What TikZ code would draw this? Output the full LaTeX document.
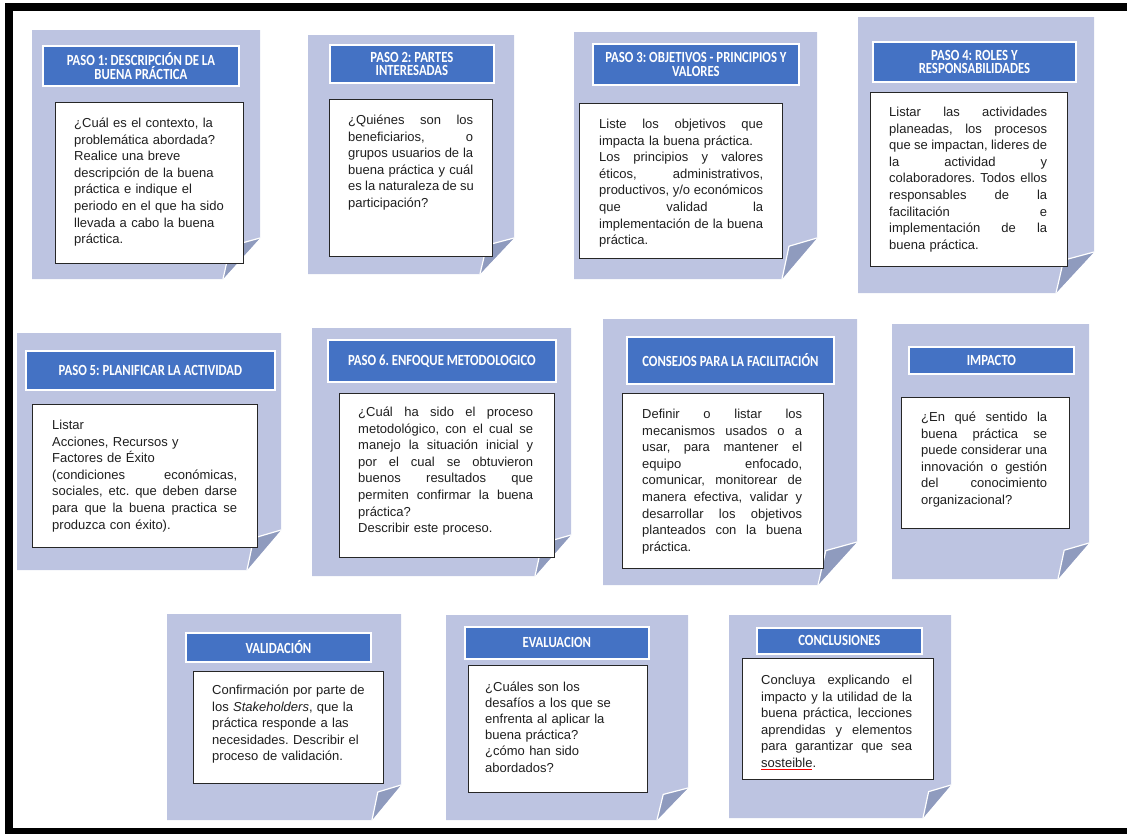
\documentclass[tikz,border=0pt]{standalone}
\usepackage{fontspec}
\setmainfont{Liberation Sans}
\newfontfamily\titlefont[FakeStretch=0.82]{Carlito}
\definecolor{cardbg}{RGB}{189,196,225}
\definecolor{flapcol}{RGB}{143,155,190}
\definecolor{pasoblue}{RGB}{68,114,196}
\frenchspacing
% one justified line of a text box
\newcommand{\jl}[1]{\leavevmode\hbox to \hsize{\spaceskip=0.25em plus 1fill\relax #1}}

\begin{document}
\begin{tikzpicture}[x=1pt,y=-1pt,
    titlebox/.style={draw=white, line width=1.8pt, fill=pasoblue, text=white,
        font=\titlefont\bfseries\fontsize{15.5}{13.6}\selectfont, align=center,
        inner sep=0pt, anchor=north west},
    bodybox/.style={draw=black!85, line width=1pt, fill=white, inner sep=0pt, anchor=north west},
    bodytext/.style={text=black!88, font=\fontsize{13}{16.6}\selectfont, align=left,
        inner sep=0pt, anchor=base west}]
    \useasboundingbox (0,0) rectangle (1127,833);
    \clip (0,0) rectangle (1127,833);
    % frame
    \draw [line width=8pt] (9,7) rectangle (1140,832);

    % cards with folded corner
    \foreach \xa/\ya/\xb/\yb/\fx/\fy in {32/30/260/279/37/41, 308/35/514/274/34/36,
        574/32/817/279/35/41, 858/17/1094/293/38/41, 17/333/281/570/34/40,
        312/328/571/576/36/41, 603/319/857/585/39/43, 892/324/1089/579/31/36,
        167/614/401/820/29/35, 446/615/688/820/31/32, 729/615/951/818/28/33}{
        \fill [cardbg] (\xa,\ya) -- (\xb,\ya) -- (\xb,\yb-\fy) -- (\xb-\fx,\yb) -- (\xa,\yb) -- cycle;
        \filldraw [fill=flapcol, draw=white, line width=1.2pt, line join=round]
            (\xb-\fx,\yb) -- (\xb-0.8*\fx,\yb-0.8*\fy) -- (\xb,\yb-\fy);
    }

    % titles
    \node [titlebox, minimum width=196, minimum height=40] (h1) at (42,45) {PASO 1: DESCRIPCIÓN DE LA\\BUENA PRÁCTICA};
    \node [titlebox, minimum width=164, minimum height=38] (h2) at (329,44) {PASO 2: PARTES\\INTERESADAS};
    \node [titlebox, minimum width=206, minimum height=41] (h3) at (592,43) {PASO 3: OBJETIVOS - PRINCIPIOS Y\\VALORES};
    \node [titlebox, minimum width=203, minimum height=40] (h4) at (872,41) {PASO 4: ROLES Y\\RESPONSABILIDADES};
    \node [titlebox, minimum width=249, minimum height=39] (h5) at (25,350) {PASO 5: PLANIFICAR LA ACTIVIDAD};
    \node [titlebox, minimum width=228, minimum height=42] (h6) at (327,339) {PASO 6. ENFOQUE METODOLOGICO};
    \node [titlebox, minimum width=207, minimum height=47] (h7) at (626,336) {CONSEJOS PARA LA FACILITACIÓN};
    \node [titlebox, minimum width=165, minimum height=27] (h8) at (908,346) {IMPACTO};
    \node [titlebox, minimum width=185, minimum height=29] (h9) at (185,632) {VALIDACIÓN};
    \node [titlebox, minimum width=184, minimum height=32] (h10) at (464,626) {EVALUACION};
    \node [titlebox, minimum width=165, minimum height=26] (h11) at (756,627) {CONCLUSIONES};

    % white boxes
    \node [bodybox, minimum width=188, minimum height=161] (b1) at (55,102) {};
    \node [bodybox, minimum width=163, minimum height=157] (b2) at (329,99) {};
    \node [bodybox, minimum width=203, minimum height=155] (b3) at (579,103) {};
    \node [bodybox, minimum width=197, minimum height=174] (b4) at (870,92) {};
    \node [bodybox, minimum width=225, minimum height=143] (b5) at (32,404) {};
    \node [bodybox, minimum width=215, minimum height=164] (b6) at (339,393) {};
    \node [bodybox, minimum width=201, minimum height=175] (b7) at (622,393) {};
    \node [bodybox, minimum width=168, minimum height=131] (b8) at (901,397) {};
    \node [bodybox, minimum width=190, minimum height=112] (b9) at (193,671) {};
    \node [bodybox, minimum width=179, minimum height=127] (b10) at (468,665) {};
    \node [bodybox, minimum width=191, minimum height=121] (b11) at (742,658) {};

    % texts
    \node [bodytext, text width=168] (t1) at (74,127.5) {¿Cuál es el contexto, la\\
        problemática abordada?\\ Realice una breve\\ descripción de la buena\\
        práctica e indique el\\ periodo en el que ha sido\\ llevada a cabo la buena\\ práctica.};
    \node [bodytext, text width=125] (t2) at (348,124.5) {\jl{¿Quiénes son los}\\
        \jl{beneficiarios, o}\\ \jl{grupos usuarios de la}\\ \jl{buena práctica y cuál}\\
        \jl{es la naturaleza de su}\\ participación?};
    \node [bodytext, text width=164] (t3) at (599,128.5) {\jl{Liste los objetivos que}\\
        impacta la buena práctica.\\ \jl{Los principios y valores}\\ \jl{éticos, administrativos,}\\
        \jl{productivos, y/o económicos}\\ \jl{que validad la}\\ \jl{implementación de la buena}\\ práctica.};
    \node [bodytext, text width=158] (t4) at (889,116.5) {\jl{Listar las actividades}\\
        \jl{planeadas, los procesos}\\ \jl{que se impactan, lideres de}\\ \jl{la actividad y}\\
        \jl{colaboradores. Todos ellos}\\ \jl{responsables de la}\\ \jl{facilitación e}\\
        \jl{implementación de la}\\ buena práctica.};
    \node [bodytext, text width=185] (t5) at (52,429.5) {Listar\\ Acciones, Recursos y\\
        Factores de Éxito\\ \jl{(condiciones económicas,}\\ \jl{sociales, etc. que deben darse}\\
        \jl{para que la buena practica se}\\ produzca con éxito).};
    \node [bodytext, text width=175] (t6) at (358,416.5) {\jl{¿Cuál ha sido el proceso}\\
        \jl{metodológico, con el cual se}\\ \jl{manejo la situación inicial y}\\
        \jl{por el cual se obtuvieron}\\ \jl{buenos resultados que}\\
        \jl{permiten confirmar la buena}\\ práctica?\\ Describir este proceso.};
    \node [bodytext, text width=160] (t7) at (642,418.5) {\jl{Definir o listar los}\\
        \jl{mecanismos usados o a}\\ \jl{usar, para mantener el}\\ \jl{equipo enfocado,}\\
        \jl{comunicar, monitorear de}\\ \jl{manera efectiva, validar y}\\
        \jl{desarrollar los objetivos}\\ \jl{planteados con la buena}\\ práctica.};
    \node [bodytext, text width=126] (t8) at (921,421.5) {\jl{¿En qué sentido la}\\
        \jl{buena práctica se}\\ \jl{puede considerar una}\\ \jl{innovación o gestión}\\
        \jl{del conocimiento}\\ organizacional?};
    \node [bodytext, text width=165] (t9) at (212,694.5) {Confirmación por parte de\\
        los \textit{Stakeholders}, que la\\ práctica responde a las\\
        necesidades. Describir el\\ proceso de validación.};
    \node [bodytext, text width=150, font=\fontsize{13}{16.1}\selectfont] (t10) at (485,691.5) {¿Cuáles son los\\
        desafíos a los que se\\ enfrenta al aplicar la\\ buena práctica?\\ ¿cómo han sido\\ abordados?};
    \node [bodytext, text width=151] (t11) at (761,684.5) {\jl{Concluya explicando el}\\
        \jl{impacto y la utilidad de la}\\ \jl{buena práctica, lecciones}\\
        \jl{aprendidas y elementos}\\ \jl{para garantizar que sea}\\
        \leavevmode\rlap{\color{red}\rule[-2.6pt]{51pt}{0.9pt}}sosteible.};
\end{tikzpicture}
\end{document}
